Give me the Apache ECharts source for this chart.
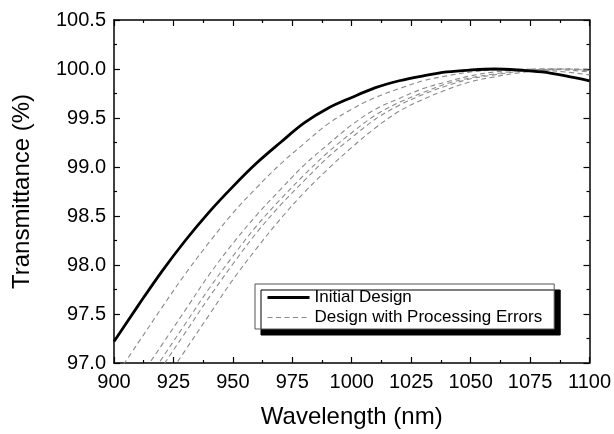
<!DOCTYPE html>
<html>
<head>
<meta charset="utf-8">
<script src="https://cdn.jsdelivr.net/npm/echarts@6/dist/echarts.min.js"></script>
<style>
  html, body { margin: 0; padding: 0; background: #fff; }
  #main { width: 614px; height: 434px; }
</style>
</head>
<body>
<div id="main"></div>
<script>
// wavelength grid (nm)
var wavelengths = [900, 910, 920, 930, 940, 950, 960, 970, 980, 990, 1000,
                   1010, 1020, 1030, 1040, 1050, 1060, 1070, 1080, 1090, 1100];

// transmittance (%)
var initialDesign = [97.22, 97.58, 97.93, 98.25, 98.54, 98.80, 99.04, 99.25, 99.45, 99.60, 99.71,
                     99.81, 99.88, 99.93, 99.97, 99.99, 100.00, 99.99, 99.97, 99.93, 99.88];
var error1 = [96.84, 97.20, 97.56, 97.91, 98.23, 98.53, 98.79, 99.03, 99.24, 99.44, 99.59,
              99.71, 99.80, 99.88, 99.93, 99.97, 99.99, 100.00, 99.99, 99.97, 99.94];
var error2 = [96.44, 96.82, 97.18, 97.54, 97.90, 98.22, 98.51, 98.77, 99.02, 99.23, 99.43,
              99.59, 99.70, 99.80, 99.87, 99.93, 99.97, 99.99, 100.00, 99.99, 99.97];
var error3 = [96.29, 96.67, 97.04, 97.40, 97.76, 98.09, 98.40, 98.67, 98.92, 99.15, 99.35,
              99.53, 99.66, 99.76, 99.85, 99.91, 99.95, 99.98, 100.00, 100.00, 99.98];
var error4 = [96.19, 96.58, 96.95, 97.31, 97.67, 98.01, 98.33, 98.61, 98.86, 99.10, 99.30,
              99.49, 99.63, 99.74, 99.83, 99.90, 99.94, 99.975, 99.995, 100.00, 99.985];
var error5 = [95.99, 96.39, 96.77, 97.13, 97.49, 97.85, 98.17, 98.47, 98.74, 98.98, 99.20,
              99.40, 99.57, 99.69, 99.79, 99.87, 99.92, 99.96, 99.985, 100.00, 100.00];

var errorSets = [error1, error2, error3, error4, error5];

function pairs(vals) {
    var out = [];
    for (var i = 0; i < wavelengths.length; i++) {
        out.push([wavelengths[i], vals[i]]);
    }
    return out;
}

var fontFamily = '"Liberation Sans", Arial, sans-serif';

var chart = echarts.init(document.getElementById('main'));

var series = [];
errorSets.forEach(function (vals) {
    series.push({
        name: 'Design with Processing Errors',
        type: 'line',
        data: pairs(vals),
        symbol: 'none',
        showSymbol: false,
        smooth: 0.35,
        clip: true,
        silent: true,
        itemStyle: { color: '#8a8a8a' },
        lineStyle: { color: '#8a8a8a', width: 1.1, type: [5, 3.5] }
    });
});
series.push({
    name: 'Initial Design',
    type: 'line',
    data: pairs(initialDesign),
    symbol: 'none',
    showSymbol: false,
    smooth: 0.35,
    clip: true,
    silent: true,
    itemStyle: { color: '#000' },
    lineStyle: { color: '#000', width: 2.8 }
});

var tickStyle = {
    axisLine: { show: true, lineStyle: { color: '#000', width: 1.5 } },
    axisTick: { show: true, inside: true, length: 6, lineStyle: { color: '#000', width: 1.2 } },
    minorTick: { show: true, splitNumber: 2, length: 3, lineStyle: { color: '#000', width: 1.2 } },
    splitLine: { show: false }
};

var option = {
    animation: false,
    textStyle: { fontFamily: fontFamily },
    grid: { left: 114, right: 22, top: 20, bottom: 65 },
    legend: {
        data: [
            { name: 'Initial Design', lineStyle: { width: 3 } },
            { name: 'Design with Processing Errors', lineStyle: { width: 1.1 } }
        ],
        orient: 'vertical',
        left: 255,
        top: 284,
        padding: [5, 12, 3, 11],
        itemWidth: 42,
        itemHeight: 14,
        itemGap: 3,
        backgroundColor: '#fff',
        borderColor: '#555',
        borderWidth: 1,
        borderRadius: 0,
        shadowColor: '#000',
        shadowBlur: 0,
        shadowOffsetX: 6,
        shadowOffsetY: 6,
        selectedMode: false,
        itemStyle: { opacity: 0 },
        textStyle: { fontSize: 17, color: '#000', fontFamily: fontFamily, lineHeight: 17 }
    },
    xAxis: [
        Object.assign({
            type: 'value',
            min: 900,
            max: 1100,
            interval: 25,
            name: 'Wavelength (nm)',
            nameLocation: 'middle',
            nameGap: 42,
            nameTextStyle: { fontSize: 24, color: '#000', fontFamily: fontFamily },
            axisLabel: {
                fontSize: 20, color: '#000', margin: 9, fontFamily: fontFamily,
                formatter: function (v) { return String(v); }
            }
        }, tickStyle),
        Object.assign({
            type: 'value',
            position: 'top',
            min: 900,
            max: 1100,
            interval: 25,
            axisLabel: { show: false }
        }, tickStyle)
    ],
    yAxis: [
        Object.assign({
            type: 'value',
            min: 97,
            max: 100.5,
            interval: 0.5,
            name: 'Transmittance (%)',
            nameLocation: 'middle',
            nameGap: 80,
            nameTextStyle: { fontSize: 24, color: '#000', fontFamily: fontFamily },
            axisLabel: {
                fontSize: 20, color: '#000', margin: 8, fontFamily: fontFamily,
                formatter: function (v) { return v.toFixed(1); }
            }
        }, tickStyle),
        Object.assign({
            type: 'value',
            position: 'right',
            min: 97,
            max: 100.5,
            interval: 0.5,
            axisLabel: { show: false }
        }, tickStyle)
    ],
    series: series
};

chart.setOption(option);
</script>
</body>
</html>
